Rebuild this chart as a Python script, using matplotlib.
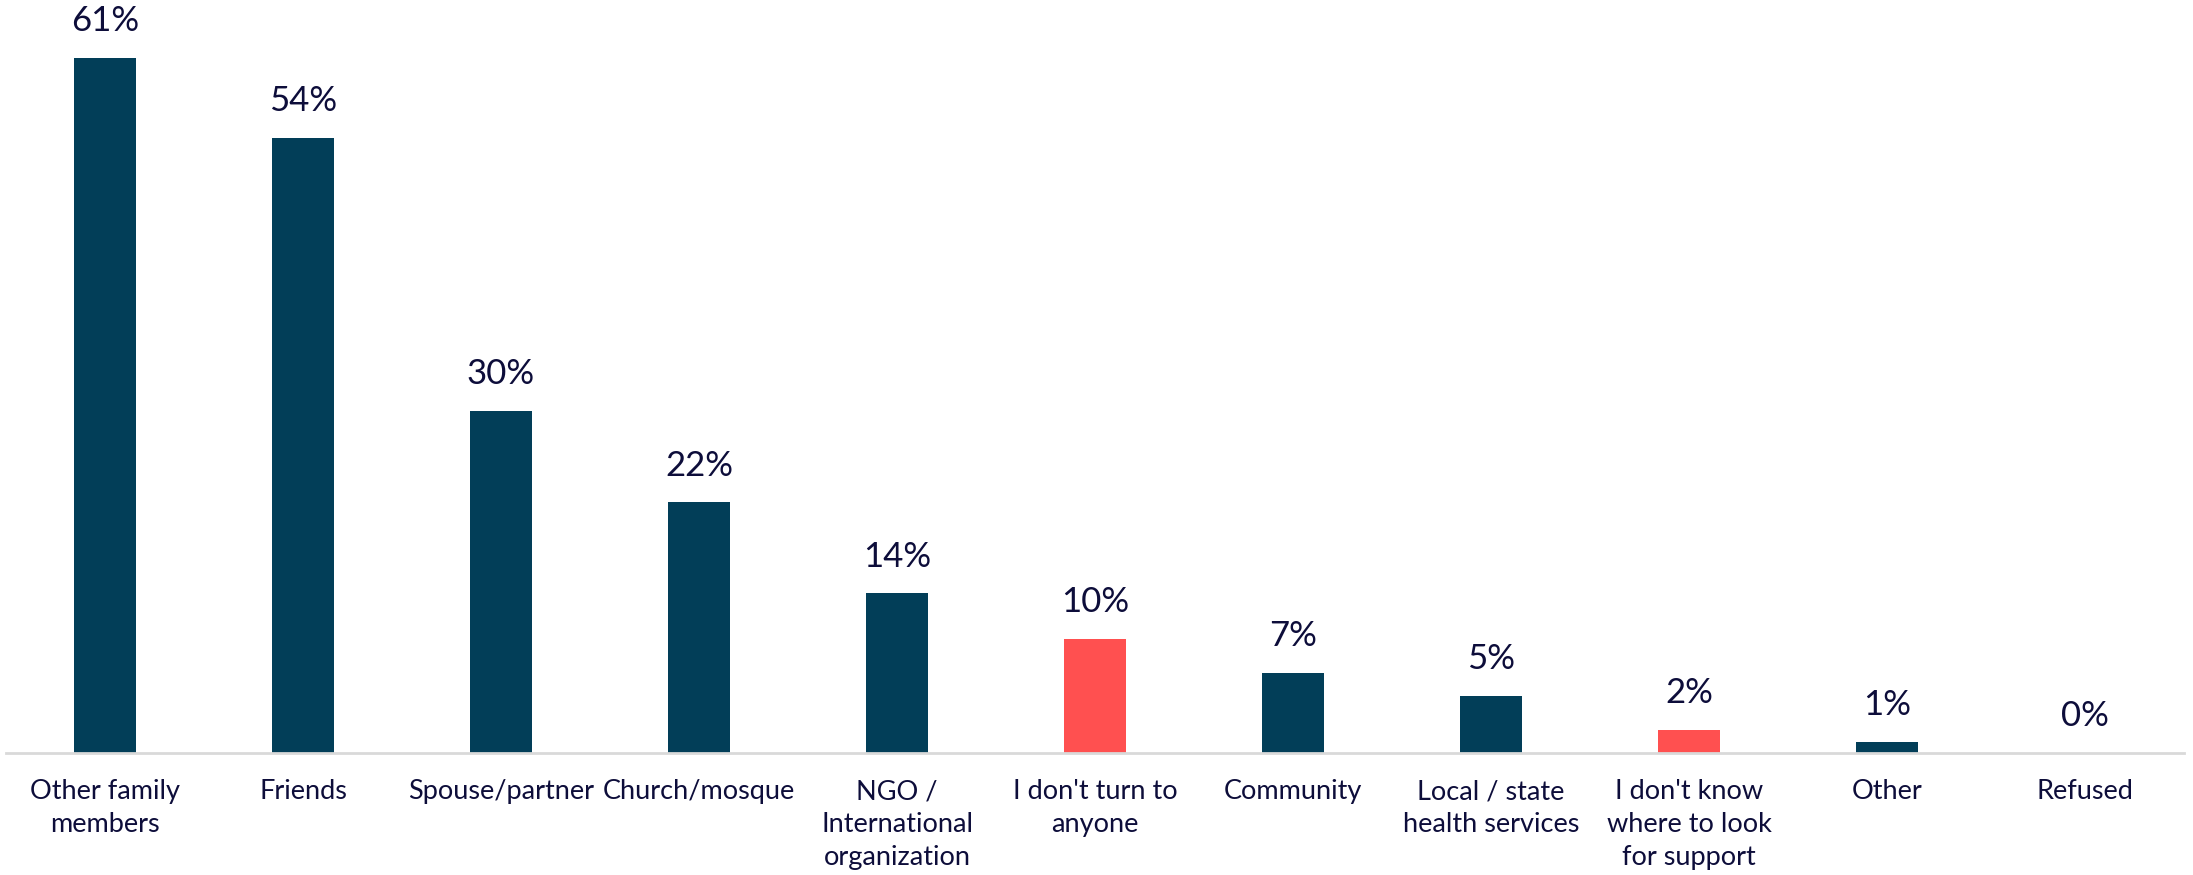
import matplotlib
matplotlib.use("Agg")
import matplotlib.pyplot as plt

categories = [
    "Other family\nmembers",
    "Friends",
    "Spouse/partner",
    "Church/mosque",
    "NGO /\nInternational\norganization",
    "I don't turn to\nanyone",
    "Community",
    "Local / state\nhealth services",
    "I don't know\nwhere to look\nfor support",
    "Other",
    "Refused",
]
values = [61, 54, 30, 22, 14, 10, 7, 5, 2, 1, 0]
highlight = [False, False, False, False, False, True, False, False, True, False, False]

NAVY = "#023e58"
RED = "#ff5050"
TEXT = "#0d0d3a"

plt.rcParams["font.family"] = ["Lato", "DejaVu Sans"]

fig = plt.figure(figsize=(21.93, 8.75), dpi=100)
ax = fig.add_axes([6 / 2193, 122 / 875, 2178 / 2193, 752 / 875])

x = list(range(len(categories)))
colors = [RED if h else NAVY for h in highlight]
ax.bar(x, values, width=0.315, color=colors, zorder=2)

for xi, v in zip(x, values):
    ax.annotate(f"{v}%", (xi, v), xytext=(0, 15), textcoords="offset points",
                ha="center", va="bottom", fontsize=25, color=TEXT)

ax.set_xlim(-0.5, len(categories) - 0.5)
ax.set_ylim(0, 66)
ax.set_xticks(x)
ax.set_xticklabels(categories, fontsize=19.5, color=TEXT, linespacing=1.4,
                   va="top")
ax.tick_params(axis="x", length=0, pad=19)
ax.set_yticks([])
for side in ("top", "right", "left"):
    ax.spines[side].set_visible(False)
ax.spines["bottom"].set_color("#d9d9d9")
ax.spines["bottom"].set_linewidth(2)
ax.spines["bottom"].set_zorder(3)

fig.savefig("out.png", dpi=100, facecolor="white")
